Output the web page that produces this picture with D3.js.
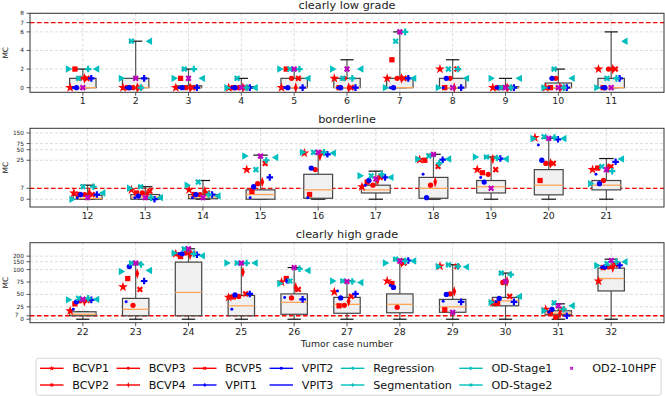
<!DOCTYPE html>
<html><head><meta charset="utf-8">
<script src="https://cdn.jsdelivr.net/npm/d3@7"></script>
<style>body{margin:0;background:#fff}svg{display:block;font-family:"DejaVu Sans",sans-serif}</style>
</head><body><svg id="c" width="665" height="396"></svg>
<script>
// ---------------- data ----------------
const panelTitles = ["clearly low grade", "borderline", "clearly high grade"];
const panelCases = [d3.range(1, 12), d3.range(12, 22), d3.range(22, 33)];
const panelYTicks = [[0, 2, 4, 6, 7, 8], [0, 7, 25, 50, 75, 150], [0, 7, 25, 50, 75, 100, 150, 200]];
const panelLinThresh = [null, 25, 100];
const thresholdMC = 7;
const xLabel = "Tumor case number";
const yLabel = "MC";

// box statistics per case 1..32 (whisker low, Q1, median, Q3, whisker high)
const boxLow  = [0,0,0,0,0,0,0,0,0,0,0, 0,0,0,0,0,0,0,0,0,0, 0,0,0,0,0,0,0,0,0,0,0];
const boxQ1   = [0,0,0,0,0,0,0,0,0,0,0, 0,0,0.3,0,0.6,4,0.6,4,2.8,6, 7,7,7,7,10,12,13,14,27,9,57];
const boxMed  = [0,0,0,0,0,0,0,0,0,0,0, 0.5,1.3,1.5,3,6,6,7,8,9,9, 10,20,54,27,34,30,30,25,37,12,82];
const boxQ3   = [1,1,0.2,0.1,1,1,1,1,0.1,0.5,1, 2.5,3,3,6,16,9,14,12,19,12, 15,42,147,48,51,44,51,40,44,17,108];
const boxHigh = [2,5,2,1,2,3,6,3,1,2,6, 9,8,12,35,39,18,37,31,106,28, 15,140,292,140,111,77,171,128,93,31,171];

// method values per case 1..32
const methodNames = ["BCVP1","BCVP2","BCVP3","BCVP4","BCVP5","VPIT1","VPIT2","VPIT3",
                     "Regression","Segmentation","OD-Stage1","OD-Stage2","OD2-10HPF"];
const BCVP1 = [0,0,0,0,0,1,1,2,0,0,2, 4,6,6,19,40,8,26,19,110,19, 17,65,225,44,75,55,77,120,33,20,77];
const BCVP2 = [2,0,1,0,2,0,3,0,0,0,0, 3,4,3,5,3,11,25,17,12,20, 31,82,196,45,82,27,72,19,32,12,111];
const BCVP3 = [1,0,0,0,1,1,1,1,0,1,2, 3,4,3,10,19,9,9,16,23,12, 37,28,234,46,43,28,24,51,74,4,115];
const BCVP4 = [1,0,0,0,0,0,1,0,0,0,2, 4,3,5,11,33,12,11,27,23,20, 36,92,215,95,64,36,145,56,76,11,111];
const BCVP5 = [1,0,0,0,1,0,1,2,0,0,2, 3,5,4,23,40,14,21,19,23,21, 38,60,230,51,60,46,140,118,46,20,128];
const VPIT1 = [1,1,0,0,0,0,1,0,0,0,1, 3,0,3,14,37,14,26,28,99,24, 39,77,215,51,40,51,160,35,35,7,125];
const VPIT2 = [0,0,0,0,0,0,0,1,0,1,0, 3,2,3,8,20,12,1,11,25,10, 35,117,225,49,77,43,64,50,42,20,115];
const VPIT3 = [0,0,0,0,0,0,0,0,0,0,0, 1,1,1,1,1,9,16,14,68,16, 20,35,225,20,44,57,68,36,35,14,113];
const Regression   = [2,5,1,0,1,2,1,1,1,1,5, 4,1,2,30,40,14,27,27,105,27, 40,98,203,140,98,74,155,115,46,27,150];
const Segmentation = [2,0,2,0,2,1,6,2,0,0,1, 8,1,3,25,42,16,23,29,112,18, 42,130,225,140,104,76,155,118,90,20,150];
const ODStage1 = [2,1,1,0,2,2,0,0,1,0,0, 0,7,9,33,42,15,27,31,105,10, 39,96,234,140,72,77,140,118,34,17,124];
const ODStage2 = [1,5,2,1,2,1,5,2,0,2,1, 8,8,11,19,42,15,33,31,117,21, 42,140,290,140,77,77,171,128,93,33,136];
const OD2HPF   = [0,1,1,0,2,2,6,0,0,0,0, 1,1,1,33,42,13,37,7,105,19, 40,140,292,140,111,76,155,14,76,27,160];
const methodValues = [BCVP1,BCVP2,BCVP3,BCVP4,BCVP5,VPIT1,VPIT2,VPIT3,Regression,Segmentation,ODStage1,ODStage2,OD2HPF];

// ---------------- styles ----------------
const methodColors = ["#ff0000","#ff0000","#ff0000","#ff0000","#ff0000","#0000ff","#0000ff","#0000ff",
                      "#00bfbf","#00bfbf","#00bfbf","#00bfbf","#bf00bf"];
const methodMarkers = ["star","square","circle","thindiamond","x","plus","circle","point",
                       "tleft","plus","tright","x","x"];
const methodOffsets = [-0.24,-0.15,-0.05,0.03,0.08,0.16,-0.12,-0.18,0.27,0.10,-0.28,-0.08,0.0];
const legendHasLine = [1,1,1,1,1,1,1,1,1,1,1,1,0];
const legendHasMarker = [1,1,1,1,1,1,1,0,1,1,1,1,1];

const axLeft = 30, axRight = 664;
const panelTop = [13.3, 128.3, 242.7];
const panelBottom = [92.3, 207, 322.7];
const panelYDomain = [[-0.5, 8], [-5, 204], [-7, 400]];
const titleBaseline = [9, 123, 238];

const svg = d3.select("#c");

function symT(v, C) {
  if (C == null) return v;
  const L = 1 / (1 - 1 / 10);
  const a = Math.abs(v);
  const t = a <= C ? a / C * L : L + Math.log10(a / C);
  return Math.sign(v) * t;
}

function markerPath(kind, s) {
  switch (kind) {
    case "star": return {d: d3.symbol(d3.symbolStar, 30 * s)(), r: 0, sx: 1};
    case "square": return {d: d3.symbol(d3.symbolSquare, 28 * s)(), r: 0, sx: 1};
    case "circle": return {d: d3.symbol(d3.symbolCircle, 22 * s)(), r: 0, sx: 1};
    case "thindiamond": return {d: d3.symbol(d3.symbolDiamond, 34 * s)(), r: 0, sx: 0.6};
    case "x": return {d: d3.symbol(d3.symbolCross, 24 * s)(), r: 45, sx: 1};
    case "plus": return {d: d3.symbol(d3.symbolCross, 24 * s)(), r: 0, sx: 1};
    case "point": return {d: d3.symbol(d3.symbolCircle, 7 * s)(), r: 0, sx: 1};
    case "tleft": return {d: d3.symbol(d3.symbolTriangle, 24 * s)(), r: -90, sx: 1};
    case "tright": return {d: d3.symbol(d3.symbolTriangle, 24 * s)(), r: 90, sx: 1};
  }
}

function drawMarker(g, kind, color, x, y, scale) {
  const m = markerPath(kind, scale);
  g.append("path").attr("d", m.d).attr("fill", color)
    .attr("transform", `translate(${x},${y}) rotate(${m.r}) scale(${m.sx},1)`);
}

panelCases.forEach((cases, p) => {
  const g = svg.append("g");
  const C = panelLinThresh[p];
  const x = d3.scaleLinear().domain([cases[0] - 1, cases[cases.length - 1] + 1]).range([axLeft, axRight]);
  const yl = d3.scaleLinear().domain(panelYDomain[p].map(v => symT(v, C))).range([panelBottom[p], panelTop[p]]);
  const y = v => yl(symT(v, C));
  const top = panelTop[p], bot = panelBottom[p];

  // grid
  g.selectAll(".gx").data(cases).enter().append("line")
    .attr("x1", d => x(d)).attr("x2", d => x(d)).attr("y1", top).attr("y2", bot)
    .attr("stroke", "#d4d4d4").attr("stroke-width", 0.8).attr("stroke-dasharray", "3,2");
  g.selectAll(".gy").data(panelYTicks[p]).enter().append("line")
    .attr("x1", axLeft).attr("x2", axRight).attr("y1", d => y(d)).attr("y2", d => y(d))
    .attr("stroke", "#d4d4d4").attr("stroke-width", 0.8).attr("stroke-dasharray", "3,2");

  // threshold line
  g.append("line").attr("x1", axLeft).attr("x2", axRight)
    .attr("y1", y(thresholdMC)).attr("y2", y(thresholdMC))
    .attr("stroke", "#ff0000").attr("stroke-width", 1.3).attr("stroke-dasharray", "4.5,2.5");

  // boxes
  cases.forEach(c => {
    const i = c - 1;
    const cx = x(c), hw = (x(c + 0.25) - x(c)), cw = (x(c + 0.125) - x(c));
    g.append("line").attr("x1", cx).attr("x2", cx).attr("y1", y(boxLow[i])).attr("y2", y(boxQ1[i]))
      .attr("stroke", "#555").attr("stroke-width", 1.2);
    g.append("line").attr("x1", cx).attr("x2", cx).attr("y1", y(boxQ3[i])).attr("y2", y(boxHigh[i]))
      .attr("stroke", "#555").attr("stroke-width", 1.2);
    g.append("line").attr("x1", cx - cw).attr("x2", cx + cw).attr("y1", y(boxLow[i])).attr("y2", y(boxLow[i]))
      .attr("stroke", "#111").attr("stroke-width", 1.2);
    g.append("line").attr("x1", cx - cw).attr("x2", cx + cw).attr("y1", y(boxHigh[i])).attr("y2", y(boxHigh[i]))
      .attr("stroke", "#111").attr("stroke-width", 1.2);
    g.append("rect").attr("x", cx - hw).attr("width", 2 * hw)
      .attr("y", y(boxQ3[i])).attr("height", Math.max(0.01, y(boxQ1[i]) - y(boxQ3[i])))
      .attr("fill", "#f0f0f0").attr("stroke", "#444").attr("stroke-width", 1.2);
    g.append("line").attr("x1", cx - hw).attr("x2", cx + hw).attr("y1", y(boxMed[i])).attr("y2", y(boxMed[i]))
      .attr("stroke", "#ffa65c").attr("stroke-width", 1.3);
  });

  // markers
  methodValues.forEach((vals, m) => {
    cases.forEach(c => {
      drawMarker(g, methodMarkers[m], methodColors[m], x(c + methodOffsets[m]), y(vals[c - 1]), 1);
    });
  });

  // frame
  g.append("rect").attr("x", axLeft).attr("y", top).attr("width", axRight - axLeft).attr("height", bot - top)
    .attr("fill", "none").attr("stroke", "#333").attr("stroke-width", 1);

  // x ticks
  cases.forEach(c => {
    g.append("line").attr("x1", x(c)).attr("x2", x(c)).attr("y1", bot).attr("y2", bot + 3.5)
      .attr("stroke", "#333").attr("stroke-width", 0.8);
    g.append("text").attr("x", x(c)).attr("y", bot + 12).attr("text-anchor", "middle")
      .attr("font-size", 9.4).attr("fill", "#222").text(c);
  });
  // y ticks (the close-together 0 / 7 labels in the last panel are staggered, as in the original)
  panelYTicks[p].forEach(t => {
    g.append("line").attr("x1", axLeft - 3.5).attr("x2", axLeft).attr("y1", y(t)).attr("y2", y(t))
      .attr("stroke", "#333").attr("stroke-width", 0.8);
    const crowded = p === 2 && t === thresholdMC;
    g.append("text").attr("x", crowded ? axLeft - 11.5 : axLeft - 6).attr("y", y(t) + (crowded ? 1 : 2))
      .attr("text-anchor", "end")
      .attr("font-size", 5.8).attr("fill", "#222").text(t);
  });
  // y label
  g.append("text").attr("transform", `translate(7.6,${(top + bot) / 2}) rotate(-90)`)
    .attr("text-anchor", "middle").attr("font-size", 7.4).attr("fill", "#222").text(yLabel);
  // title
  g.append("text").attr("x", (axLeft + axRight) / 2).attr("y", titleBaseline[p]).attr("text-anchor", "middle")
    .attr("font-size", 11.3).attr("fill", "#222").text(panelTitles[p]);
});

// x label
svg.append("text").attr("x", (axLeft + axRight) / 2).attr("y", 346.5).attr("text-anchor", "middle")
  .attr("font-size", 9.3).attr("fill", "#222").text(xLabel);

// legend
const leg = svg.append("g");
const legFrame = leg.append("rect");
const rowY = [368.3, 385];
const nRows = 2;
let colX = 40;
const nCols = Math.ceil(methodNames.length / nRows);
for (let col = 0; col < nCols; col++) {
  let maxW = 0;
  for (let r = 0; r < nRows; r++) {
    const m = col * nRows + r;
    if (m >= methodNames.length) break;
    const yy = rowY[r];
    if (legendHasLine[m]) leg.append("line").attr("x1", colX).attr("x2", colX + 23.5).attr("y1", yy).attr("y2", yy)
      .attr("stroke", methodColors[m]).attr("stroke-width", 1.4);
    if (legendHasMarker[m]) drawMarker(leg, methodMarkers[m], methodColors[m], colX + 11.75, yy, 0.32);
    const t = leg.append("text").attr("x", colX + 32.3).attr("y", yy + 4).attr("font-size", 11.2)
      .attr("fill", "#111").text(methodNames[m]);
    maxW = Math.max(maxW, t.node().getComputedTextLength());
  }
  colX += 32.3 + maxW + (col < nCols - 1 ? 7.4 : 4.5);
}
legFrame.attr("x", 36).attr("y", 358.3).attr("width", colX - 36).attr("height", 37)
  .attr("rx", 2.5).attr("fill", "#fff").attr("fill-opacity", 0.8).attr("stroke", "#d0d0d0").attr("stroke-width", 0.9);
</script>
</body></html>
